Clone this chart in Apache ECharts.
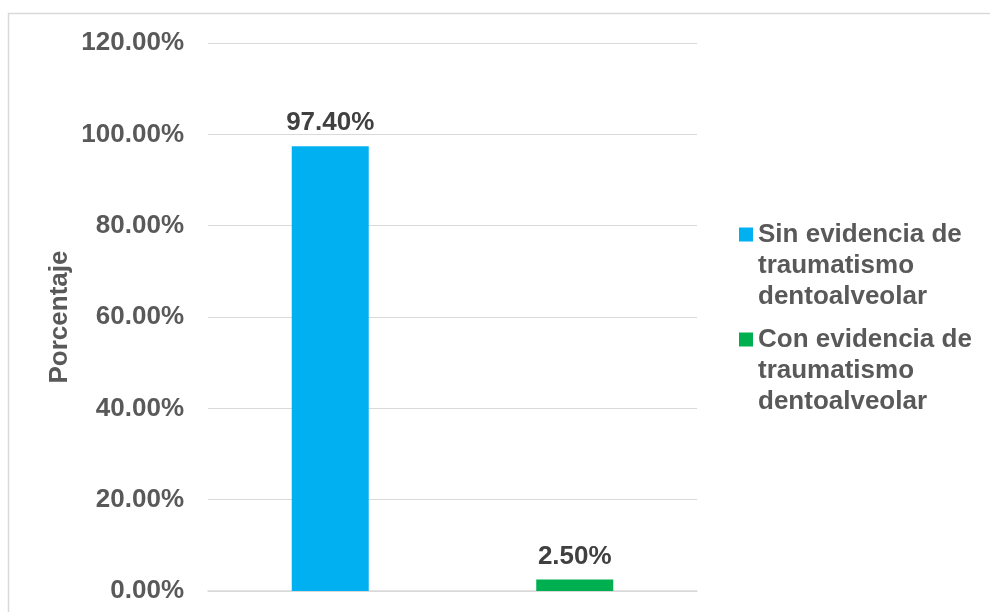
<!DOCTYPE html>
<html>
<head>
<meta charset="utf-8">
<script src="https://cdn.jsdelivr.net/npm/echarts@6/dist/echarts.min.js"></script>
<style>
  html, body { margin: 0; padding: 0; background: #fff; }
  #chart { width: 990px; height: 612px; }
</style>
</head>
<body>
<div id="chart"></div>
<script>
// datos del gráfico
const categorias = ['Sin evidencia de\ntraumatismo\ndentoalveolar', 'Con evidencia de\ntraumatismo\ndentoalveolar']
const sinEvidencia = [97.4, '-']
const conEvidencia = ['-', 2.5]
const ticksY = [0, 20, 40, 60, 80, 100, 120]

const fuente = '"Liberation Sans", Arial, sans-serif'
const pct = v => Number(v).toFixed(2) + '%'

const etiqueta = {
  show: true,
  position: 'top',
  distance: 10,
  color: '#404040',
  fontFamily: fuente,
  fontWeight: 'bold',
  fontSize: 26,
  formatter: p => pct(p.value)
}

let options = {
  animation: false,
  textStyle: { fontFamily: fuente },
  // marco del gráfico
  graphic: [{
    type: 'rect',
    shape: { x: 8.5, y: 13.5, width: 1100, height: 800 },
    style: { fill: 'none', stroke: '#d9d9d9', lineWidth: 1.5 },
    silent: true
  }],
  grid: { left: 208, right: 293, top: 43, bottom: 21 },
  legend: {
    orient: 'vertical',
    left: 739,
    top: 157,
    padding: 0,
    itemWidth: 14,
    itemHeight: 14,
    itemGap: -50,
    icon: 'rect',
    // dos líneas vacías arriba para que el icono quede junto a la primera línea
    formatter: name => '\n\n' + name,
    textStyle: {
      color: '#595959',
      fontFamily: fuente,
      fontWeight: 'bold',
      fontSize: 26,
      lineHeight: 31
    },
    data: categorias
  },
  xAxis: {
    type: 'category',
    data: categorias,
    axisLine: { show: true, lineStyle: { color: '#d9d9d9', width: 1.5 } },
    axisTick: { show: false },
    axisLabel: { show: false }
  },
  yAxis: {
    type: 'value',
    min: ticksY[0],
    max: ticksY[ticksY.length - 1],
    interval: 20,
    name: 'Porcentaje',
    nameLocation: 'middle',
    nameGap: 135,
    nameTextStyle: { color: '#595959', fontWeight: 'bold', fontSize: 26, fontFamily: fuente },
    axisLine: { show: false },
    axisTick: { show: false },
    axisLabel: {
      margin: 24,
      color: '#595959',
      fontWeight: 'bold',
      fontSize: 26,
      fontFamily: fuente,
      formatter: v => pct(v)
    },
    splitLine: { lineStyle: { color: '#d9d9d9', width: 1 } }
  },
  series: [
    {
      name: categorias[0],
      type: 'bar',
      barWidth: 77,
      barGap: '-100%',
      itemStyle: { color: '#00b0f0' },
      label: etiqueta,
      data: sinEvidencia
    },
    {
      name: categorias[1],
      type: 'bar',
      barWidth: 77,
      itemStyle: { color: '#00b050' },
      label: etiqueta,
      data: conEvidencia
    }
  ]
}

let chart = echarts.init(document.getElementById('chart'))
chart.setOption(options)
</script>
</body>
</html>
